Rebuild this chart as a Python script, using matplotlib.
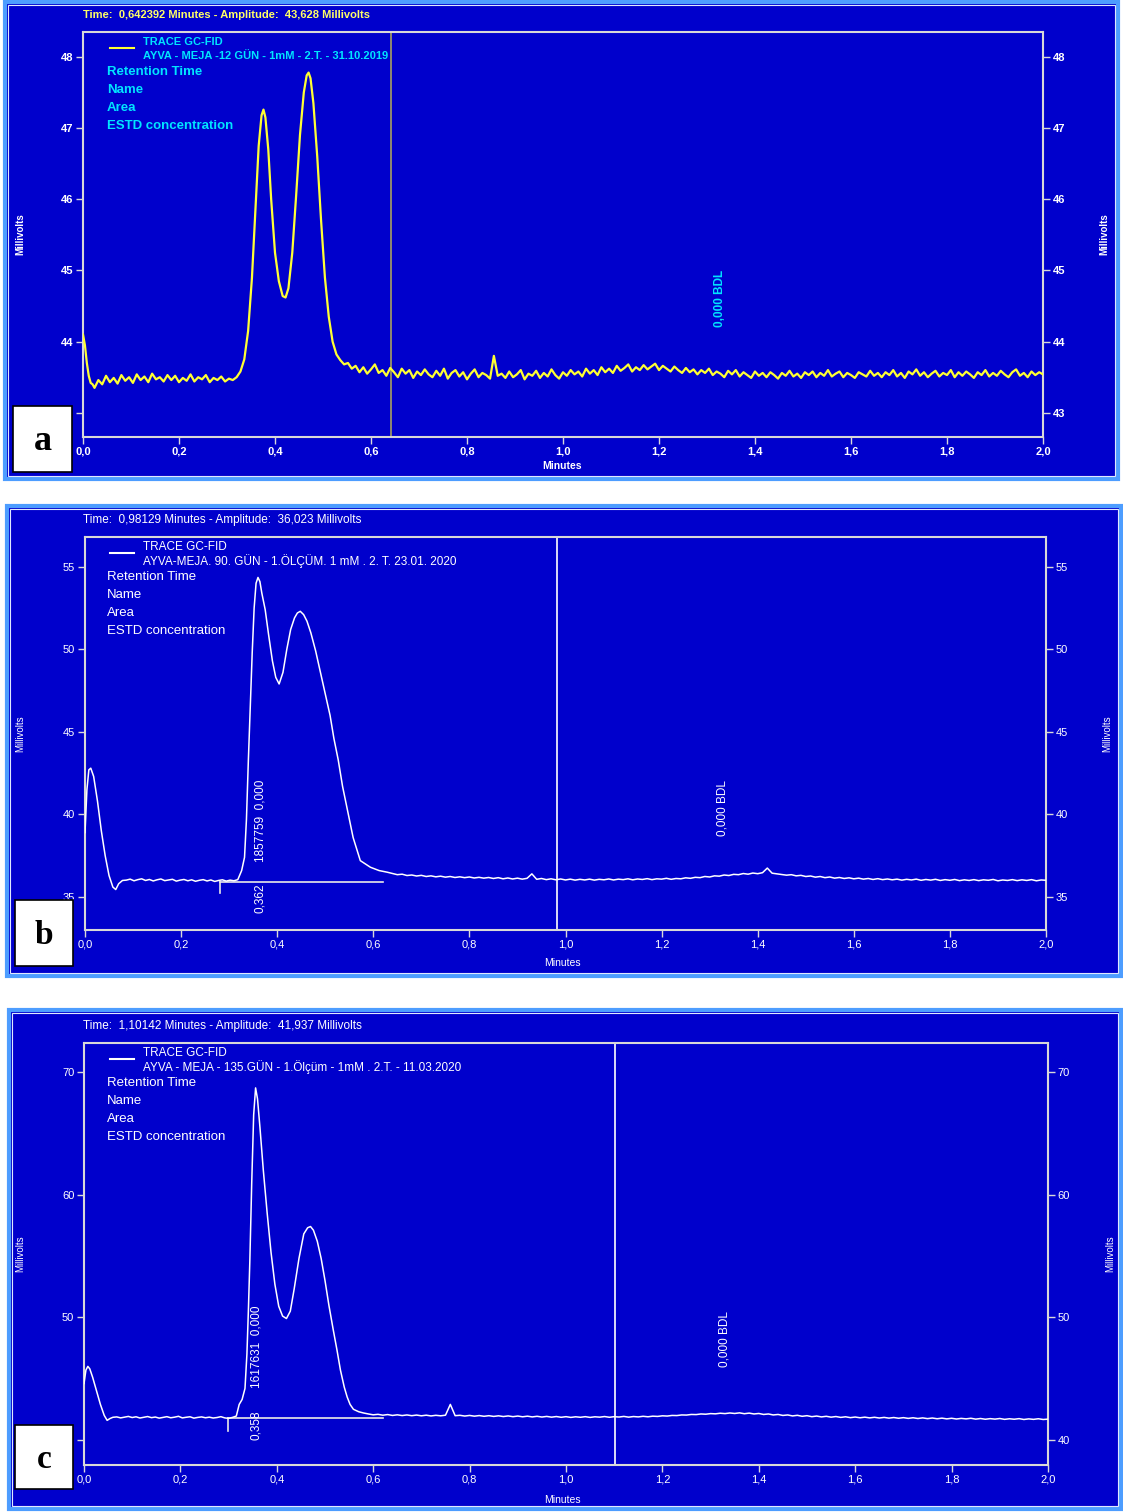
import numpy as np
import matplotlib
matplotlib.use("Agg")
import matplotlib.pyplot as plt
from matplotlib.patches import Rectangle
from matplotlib.lines import Line2D

W, H = 1123, 1512
BLUE = '#0000cc'

# ---------------- data ----------------
x_ticks = [0.0, 0.2, 0.4, 0.6, 0.8, 1.0, 1.2, 1.4, 1.6, 1.8, 2.0]
x_tick_labels = ["0,0", "0,2", "0,4", "0,6", "0,8", "1,0", "1,2", "1,4", "1,6", "1,8", "2,0"]

# panel a (12 gun)
a_start_t = [0.000, 0.004, 0.008, 0.012, 0.016, 0.020]
a_start_mv = [44.10, 43.95, 43.70, 43.52, 43.42, 43.40]
a_base1_mv = [43.35, 43.46, 43.40, 43.52, 43.43, 43.49, 43.41, 43.53, 43.45, 43.50,
              43.42, 43.54, 43.46, 43.51, 43.43, 43.55, 43.47, 43.50, 43.44, 43.53,
              43.46, 43.52, 43.43, 43.49, 43.45, 43.54, 43.44, 43.50, 43.47, 43.53,
              43.43, 43.49, 43.46, 43.51, 43.44, 43.48, 43.46, 43.50]
a_peak_t = [0.328, 0.336, 0.344, 0.352, 0.360, 0.366, 0.372, 0.376, 0.380, 0.386,
            0.392, 0.400, 0.408, 0.416, 0.422, 0.428, 0.436, 0.444, 0.452, 0.460,
            0.466, 0.470, 0.474, 0.480, 0.488, 0.496, 0.504, 0.512, 0.520, 0.528,
            0.536, 0.544]
a_peak_mv = [43.58, 43.75, 44.15, 44.90, 45.95, 46.75, 47.18, 47.26, 47.15, 46.70,
             46.00, 45.25, 44.85, 44.64, 44.62, 44.75, 45.25, 46.05, 46.90, 47.50,
             47.74, 47.78, 47.70, 47.35, 46.60, 45.70, 44.90, 44.35, 44.00, 43.82,
             43.74, 43.68]
a_base2_mv = [43.70, 43.62, 43.66, 43.57, 43.64, 43.55, 43.61, 43.68, 43.56, 43.60,
              43.52, 43.63, 43.57, 43.50, 43.62, 43.55, 43.60, 43.49, 43.58, 43.53,
              43.61, 43.54, 43.50, 43.59, 43.52, 43.62, 43.48, 43.56, 43.60, 43.51,
              43.57, 43.47, 43.55, 43.61, 43.50, 43.56, 43.53, 43.48, 43.80, 43.52,
              43.55, 43.49, 43.58, 43.50, 43.54, 43.60, 43.47, 43.55, 43.52, 43.59,
              43.49, 43.56, 43.51, 43.61, 43.53, 43.48, 43.57, 43.52, 43.60, 43.54,
              43.58, 43.51, 43.62, 43.55, 43.60, 43.53, 43.64, 43.57, 43.62, 43.56,
              43.66, 43.59, 43.63, 43.68, 43.58, 43.64, 43.60, 43.67, 43.61, 43.65,
              43.69, 43.60, 43.66, 43.62, 43.58, 43.65, 43.60, 43.56, 43.63, 43.57,
              43.61, 43.54, 43.60, 43.56, 43.62, 43.53, 43.58, 43.55, 43.50, 43.59,
              43.54, 43.60, 43.51, 43.57, 43.53, 43.49, 43.58, 43.52, 43.56, 43.50,
              43.57, 43.53, 43.48, 43.56, 43.52, 43.59, 43.51, 43.55, 43.49, 43.57,
              43.53, 43.58, 43.50, 43.56, 43.52, 43.60, 43.51, 43.55, 43.58, 43.50,
              43.56, 43.53, 43.49, 43.57, 43.54, 43.51, 43.59, 43.52, 43.56, 43.50,
              43.57, 43.53, 43.60, 43.51, 43.56, 43.49, 43.58, 43.54, 43.61, 43.52,
              43.57, 43.50, 43.55, 43.59, 43.51, 43.56, 43.53, 43.60, 43.50, 43.57,
              43.52, 43.58, 43.54, 43.49, 43.57, 43.53, 43.60, 43.51, 43.56, 43.52,
              43.59, 43.54, 43.50, 43.57, 43.61, 43.52, 43.56, 43.50, 43.58, 43.53,
              43.57, 43.54]
a_time = np.concatenate([a_start_t, np.linspace(0.024, 0.320, len(a_base1_mv)),
                         a_peak_t, np.linspace(0.552, 2.0, len(a_base2_mv))])
a_mv = np.concatenate([a_start_mv, a_base1_mv, a_peak_mv, a_base2_mv])

# panel b (90 gun)
b_start_t = [0.000, 0.004, 0.008, 0.012, 0.018, 0.026, 0.034, 0.042, 0.050, 0.058, 0.064, 0.070, 0.078]
b_start_mv = [38.9, 41.5, 42.7, 42.8, 42.3, 40.8, 39.0, 37.5, 36.3, 35.6, 35.45, 35.8, 36.0]
b_base1_mv = [36.02, 36.08, 35.98, 36.05, 36.10, 36.00, 36.06, 35.97, 36.04, 36.09,
              35.99, 36.03, 36.07, 35.96, 36.02, 36.06, 35.98, 36.04, 35.95, 36.01,
              36.05, 35.97, 36.03, 35.94, 36.00, 36.04, 35.96, 36.02, 35.98, 36.05]
b_peak_t = [0.326, 0.332, 0.336, 0.340, 0.344, 0.348, 0.352, 0.356, 0.360, 0.364,
            0.368, 0.375, 0.382, 0.390, 0.397, 0.404, 0.412, 0.420, 0.428, 0.436,
            0.442, 0.448, 0.455, 0.462, 0.470, 0.480, 0.490, 0.500, 0.510, 0.518,
            0.527, 0.536, 0.546, 0.558, 0.573, 0.594, 0.612, 0.629]
b_peak_mv = [36.6, 37.4, 39.7, 43.3, 46.5, 49.8, 52.5, 54.0, 54.35, 54.1,
             53.4, 52.4, 50.9, 49.3, 48.3, 47.9, 48.6, 50.0, 51.2, 51.9,
             52.2, 52.3, 52.1, 51.7, 51.0, 49.9, 48.6, 47.3, 46.0, 44.6,
             43.3, 41.7, 40.3, 38.6, 37.2, 36.8, 36.6, 36.5]
b_base2_mv = [36.42, 36.35, 36.38, 36.30, 36.33, 36.27, 36.31, 36.24, 36.28, 36.22,
              36.26, 36.20, 36.24, 36.18, 36.22, 36.17, 36.21, 36.15, 36.19, 36.14,
              36.18, 36.12, 36.17, 36.10, 36.15, 36.09, 36.14, 36.08, 36.13, 36.40,
              36.07, 36.12, 36.05, 36.10, 36.04, 36.09, 36.03, 36.08, 36.02, 36.07,
              36.03, 36.08, 36.02, 36.07, 36.04, 36.09, 36.03, 36.08, 36.05, 36.10,
              36.04, 36.09, 36.06, 36.11, 36.05, 36.10, 36.08, 36.13, 36.07, 36.12,
              36.10, 36.16, 36.13, 36.19, 36.17, 36.24, 36.21, 36.28, 36.26, 36.33,
              36.30, 36.37, 36.35, 36.42, 36.38, 36.45, 36.41, 36.47, 36.75, 36.44,
              36.40, 36.36, 36.32, 36.35, 36.28, 36.31, 36.24, 36.27, 36.20, 36.24,
              36.17, 36.21, 36.14, 36.18, 36.12, 36.16, 36.10, 36.14, 36.08, 36.12,
              36.06, 36.11, 36.05, 36.09, 36.04, 36.08, 36.02, 36.07, 36.03, 36.08,
              36.01, 36.06, 36.02, 36.07, 36.00, 36.05, 36.01, 36.06, 35.99, 36.04,
              36.00, 36.05, 35.99, 36.04, 36.01, 36.06, 35.98, 36.03, 36.00, 36.05,
              35.99, 36.04, 36.00, 36.05, 35.98, 36.03, 36.01]
b_time = np.concatenate([b_start_t, np.linspace(0.086, 0.318, len(b_base1_mv)),
                         b_peak_t, np.linspace(0.64, 2.0, len(b_base2_mv))])
b_mv = np.concatenate([b_start_mv, b_base1_mv, b_peak_mv, b_base2_mv])

# panel c (135 gun)
c_start_t = [0.000, 0.004, 0.008, 0.012, 0.018, 0.026, 0.034, 0.042, 0.048, 0.054, 0.060]
c_start_mv = [44.6, 45.7, 46.0, 45.8, 45.1, 44.0, 42.9, 42.0, 41.6, 41.75, 41.85]
c_base1_mv = [41.88, 41.80, 41.86, 41.92, 41.83, 41.89, 41.79, 41.85, 41.91, 41.82,
              41.87, 41.78, 41.84, 41.90, 41.81, 41.86, 41.93, 41.80, 41.85, 41.89,
              41.78, 41.84, 41.88, 41.81, 41.86, 41.79, 41.83, 41.90, 41.80, 41.76,
              41.84, 41.95]
c_peak_t = [0.322, 0.328, 0.334, 0.338, 0.341, 0.344, 0.348, 0.352, 0.356, 0.360,
            0.365, 0.372, 0.380, 0.388, 0.396, 0.404, 0.412, 0.420, 0.428, 0.436,
            0.446, 0.456, 0.464, 0.470, 0.476, 0.484, 0.492, 0.500, 0.508, 0.517,
            0.525, 0.532, 0.540, 0.546, 0.552, 0.559, 0.570, 0.580]
c_peak_mv = [42.9, 43.3, 44.2, 47.0, 50.5, 54.5, 61.0, 66.5, 68.7, 67.8,
             65.5, 62.0, 58.5, 55.3, 52.7, 50.9, 50.1, 49.9, 50.5, 52.3,
             54.8, 56.8, 57.3, 57.4, 57.1, 56.2, 54.8, 53.0, 51.0, 49.0,
             47.3, 45.7, 44.3, 43.5, 42.9, 42.5, 42.3, 42.2]
c_base2_mv = [42.12, 42.05, 42.09, 42.02, 42.07, 42.00, 42.05, 41.99, 42.04, 41.98,
              42.03, 41.97, 42.02, 41.96, 42.01, 41.97, 42.02, 42.90, 41.98, 42.01,
              41.95, 42.00, 41.94, 41.99, 41.93, 41.98, 41.92, 41.97, 41.91, 41.96,
              41.90, 41.95, 41.89, 41.94, 41.88, 41.93, 41.87, 41.92, 41.86, 41.91,
              41.85, 41.90, 41.84, 41.89, 41.85, 41.90, 41.84, 41.89, 41.86, 41.91,
              41.85, 41.90, 41.87, 41.92, 41.86, 41.91, 41.88, 41.93, 41.89, 41.94,
              41.92, 41.97, 41.95, 42.00, 41.99, 42.04, 42.03, 42.08, 42.07, 42.12,
              42.10, 42.15, 42.13, 42.18, 42.15, 42.20, 42.16, 42.21, 42.14, 42.19,
              42.12, 42.16, 42.08, 42.12, 42.04, 42.08, 42.00, 42.04, 41.96, 42.01,
              41.93, 41.98, 41.90, 41.95, 41.88, 41.93, 41.86, 41.91, 41.84, 41.89,
              41.82, 41.87, 41.81, 41.86, 41.80, 41.85, 41.79, 41.84, 41.78, 41.83,
              41.77, 41.82, 41.76, 41.81, 41.75, 41.80, 41.74, 41.79, 41.73, 41.78,
              41.72, 41.77, 41.71, 41.76, 41.72, 41.77, 41.70, 41.75, 41.69, 41.74,
              41.70, 41.75, 41.68, 41.73, 41.69, 41.74, 41.67, 41.72, 41.68, 41.73,
              41.67, 41.70]
c_time = np.concatenate([c_start_t, np.linspace(0.068, 0.316, len(c_base1_mv)),
                         c_peak_t, np.linspace(0.59, 2.0, len(c_base2_mv))])
c_mv = np.concatenate([c_start_mv, c_base1_mv, c_peak_mv, c_base2_mv])

panels = [
    dict(letter="a", time=a_time, mv=a_mv, ylim=(42.66, 48.35), yticks=[43, 44, 45, 46, 47, 48],
         box=(5, 2, 1118, 479), frame=(83, 32, 1043, 437), letter_box=(13, 406, 72, 472),
         header="Time:  0,642392 Minutes - Amplitude:  43,628 Millivolts",
         sample="AYVA - MEJA -12 GÜN - 1mM - 2.T. - 31.10.2019",
         cursor=0.642392, bdl=(1.327, 44.6), peak_label=None, base_line=None,
         trace_color="#ffff33", text_color="#00e5ff", head_color="#ffff66",
         cursor_color="#a8a060", weight="bold", lw=1.6, letter_size=26,
         ylabel_x=(20, 1104), xlabel_y=466, tick_y=447),
    dict(letter="b", time=b_time, mv=b_mv, ylim=(33.0, 56.8), yticks=[35, 40, 45, 50, 55],
         box=(7, 506, 1121, 976), frame=(85, 537, 1046, 930), letter_box=(15, 900, 73, 966),
         header="Time:  0,98129 Minutes - Amplitude:  36,023 Millivolts",
         sample="AYVA-MEJA. 90. GÜN - 1.ÖLÇÜM. 1 mM . 2. T. 23.01. 2020",
         cursor=0.98129, bdl=(1.327, 40.4),
         peak_label=(0.365, 37.1, "1857759  0,000", 35.8, "0,362"),
         base_line=(0.281, 0.62, 35.92, 35.25),
         trace_color="white", text_color="white", head_color="white",
         cursor_color="white", weight="normal", lw=1.1, letter_size=24,
         ylabel_x=(20, 1107), xlabel_y=963, tick_y=944),
    dict(letter="c", time=c_time, mv=c_mv, ylim=(37.96, 72.36), yticks=[40, 50, 60, 70],
         box=(9, 1010, 1121, 1509), frame=(84, 1043, 1048, 1465), letter_box=(15, 1425, 73, 1489),
         header="Time:  1,10142 Minutes - Amplitude:  41,937 Millivolts",
         sample="AYVA - MEJA - 135.GÜN - 1.Ölçüm - 1mM . 2.T. - 11.03.2020",
         cursor=1.10142, bdl=(1.329, 48.2),
         peak_label=(0.357, 44.2, "1617631  0,000", 42.4, "0,358"),
         base_line=(0.299, 0.62, 41.8, 40.75),
         trace_color="white", text_color="white", head_color="white",
         cursor_color="white", weight="normal", lw=1.1, letter_size=24,
         ylabel_x=(20, 1110), xlabel_y=1500, tick_y=1480),
]

FONT = "Liberation Sans"


def fx(x):
    return x / W


def fy(y):
    return 1 - y / H


fig = plt.figure(figsize=(W / 100, H / 100), dpi=100)

for p in panels:
    x0, y0, x1, y1 = p["box"]
    # blue window with light border
    fig.add_artist(Rectangle((fx(x0), fy(y1)), fx(x1 - x0), (y1 - y0) / H,
                             transform=fig.transFigure, facecolor=BLUE,
                             edgecolor="#4d9dff", linewidth=3, zorder=-2))
    fig.add_artist(Rectangle((fx(x0 + 3), fy(y1 - 3)), fx(x1 - x0 - 6), (y1 - y0 - 6) / H,
                             transform=fig.transFigure, facecolor="none",
                             edgecolor="#dfe8ff", linewidth=0.8, zorder=-1))

    l, t, r, b = p["frame"]
    ax = fig.add_axes([fx(l), fy(b), fx(r - l), (b - t) / H])
    ax.set_facecolor("none")
    ax.plot(p["time"], p["mv"], color=p["trace_color"], lw=p["lw"], zorder=3)
    ax.axvline(p["cursor"], color=p["cursor_color"], lw=1.2, zorder=2)
    ax.set_xlim(0, 2.0)
    ax.set_ylim(*p["ylim"])
    ax.set_xticks(x_ticks)
    ax.set_xticklabels(x_tick_labels)
    ax.set_yticks(p["yticks"])
    ax.set_yticklabels([str(v) for v in p["yticks"]])
    ax.tick_params(direction="out", length=5, width=1, color="#d8d8d8",
                   labelcolor="white", labelsize=8, pad=2,
                   left=True, right=True, labelleft=True, labelright=True)
    for lab in ax.get_xticklabels() + ax.get_yticklabels():
        lab.set_fontfamily(FONT)
        lab.set_fontweight(p["weight"])
    for s in ax.spines.values():
        s.set_color("#d8d8d8")
        s.set_linewidth(1.5)

    # annotations in data coordinates
    ax.text(p["bdl"][0], p["bdl"][1], "0,000 BDL", rotation=90, ha="center", va="center",
            color=p["text_color"], fontsize=8.5, fontfamily=FONT, fontweight=p["weight"])
    if p["peak_label"]:
        px, py_top, s_top, py_bot, s_bot = p["peak_label"]
        ax.text(px, py_top, s_top, rotation=90, ha="center", va="bottom",
                color="white", fontsize=8.5, fontfamily=FONT)
        ax.text(px, py_bot, s_bot, rotation=90, ha="center", va="top",
                color="white", fontsize=8.5, fontfamily=FONT)
    if p["base_line"]:
        bx0, bx1, by, btick = p["base_line"]
        ax.plot([bx0, bx1], [by, by], color="#e8e8e8", lw=1.2, zorder=2)
        ax.plot([bx0, bx0], [by, btick], color="#e8e8e8", lw=1.2, zorder=2)

    # header, legend block and axis titles
    kw = dict(fontfamily=FONT, fontweight=p["weight"], va="center")
    head_size = 8 if p["weight"] == "bold" else 8.5
    fig.text(fx(83), fy(t - 17), p["header"], color=p["head_color"], fontsize=head_size, **kw)
    fig.add_artist(Line2D([fx(110), fx(134)], [fy(t + 16), fy(t + 16)],
                          transform=fig.transFigure, color=p["trace_color"], lw=1.5))
    fig.text(fx(143), fy(t + 10), "TRACE GC-FID", color=p["text_color"], fontsize=head_size, **kw)
    fig.text(fx(143), fy(t + 24), p["sample"], color=p["text_color"], fontsize=head_size, **kw)
    for i, s in enumerate(["Retention Time", "Name", "Area", "ESTD concentration"]):
        fig.text(fx(107), fy(t + 40 + i * 18), s, color=p["text_color"], fontsize=9.5, **kw)
    fig.text(fx(562), fy(p["xlabel_y"]), "Minutes", color="white", fontsize=7.5,
             ha="center", **kw)
    for xl in p["ylabel_x"]:
        fig.text(fx(xl), fy((t + b) / 2), "Millivolts", color="white", fontsize=7,
                 rotation=90, ha="center", **kw)

    # panel letter box
    lx0, ly0, lx1, ly1 = p["letter_box"]
    fig.add_artist(Rectangle((fx(lx0), fy(ly1)), fx(lx1 - lx0), (ly1 - ly0) / H,
                             transform=fig.transFigure, facecolor="white",
                             edgecolor="black", linewidth=1.2, zorder=5))
    fig.text(fx((lx0 + lx1) / 2), fy((ly0 + ly1) / 2 + 2), p["letter"], ha="center",
             va="center", fontsize=p["letter_size"], fontweight="bold",
             fontfamily="Liberation Serif", color="black", zorder=6)

fig.savefig("out.png", dpi=100, facecolor="white")
